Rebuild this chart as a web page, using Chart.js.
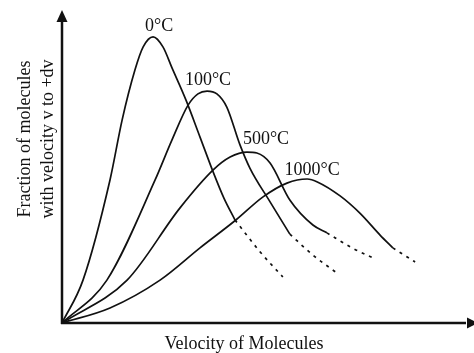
<!DOCTYPE html>
<html>
<head>
<meta charset="utf-8">
<script src="https://cdn.jsdelivr.net/npm/chart.js@4.4.1/dist/chart.umd.min.js"></script>
<style>
  html, body { margin: 0; padding: 0; background: #fff; }
  #wrap { width: 474px; height: 353px; }
</style>
</head>
<body>
<div id="wrap"><canvas id="mbChart"></canvas></div>
<script>
// temperatures, one curve each
const temps = ["0°C", "100°C", "500°C", "1000°C"];

// solid part of each curve (velocity, fraction) in arbitrary units
const velocity0 = [0, 5.1, 11.65, 14.6, 17.7, 19.7, 22.1, 24.5, 26.7, 30.1, 33.5, 36.7, 39.3, 42.0];
const fraction0 = [0, 13.7, 45.7, 64.9, 80.8, 88.2, 91.4, 88.2, 81.5, 71.2, 59.4, 48.2, 39.9, 32.9];
const velocity100 = [0, 10.9, 22.6, 26.7, 30.6, 33.0, 35.2, 37.6, 40.0, 43.2, 45.6, 50.5, 55.3];
const fraction100 = [0, 13.7, 45.7, 58.5, 69.6, 73.2, 74.1, 73.2, 69.0, 56.9, 49.5, 38.7, 28.4];
const velocity500 = [0, 15.8, 28.6, 36.7, 40.8, 44.9, 47.3, 50.5, 55.3, 60.9, 64.3];
const fraction500 = [0, 13.7, 36.7, 48.9, 53.0, 54.6, 54.3, 51.1, 39.3, 31.3, 28.8];
const velocity1000 = [0, 11.65, 23.8, 33.5, 42.2, 48.8, 54.6, 59.5, 62.1, 67.5, 72.3, 77.2, 80.3];
const fraction1000 = [0, 4.8, 13.7, 24.0, 32.9, 40.3, 44.7, 46.0, 45.0, 40.6, 35.1, 28.1, 24.0];

// dotted tails
const tailVelocity0 = [42.0, 48.1, 53.6];
const tailFraction0 = [32.9, 22.7, 14.7];
const tailVelocity100 = [55.3, 60.9, 66.7];
const tailFraction100 = [28.4, 21.7, 16.0];
const tailVelocity500 = [64.3, 70.4, 75.5];
const tailFraction500 = [28.8, 24.0, 20.8];
const tailVelocity1000 = [80.3, 85.7];
const tailFraction1000 = [24.0, 19.5];

const solidV = [velocity0, velocity100, velocity500, velocity1000];
const solidF = [fraction0, fraction100, fraction500, fraction1000];
const tailV = [tailVelocity0, tailVelocity100, tailVelocity500, tailVelocity1000];
const tailF = [tailFraction0, tailFraction100, tailFraction500, tailFraction1000];

// where each temperature label sits relative to its peak (px)
const labelOffsets = [[6, -6], [1, -6], [19, -8], [5, -4]];

const FONT = '"Liberation Serif", "Times New Roman", serif';
const INK = "#111";

function points(xs, ys) {
  return xs.map((x, i) => ({ x: x, y: ys[i] }));
}

const datasets = [];
temps.forEach((t, i) => {
  datasets.push({
    label: t,
    data: points(solidV[i], solidF[i]),
    borderColor: INK,
    borderWidth: 1.7,
    cubicInterpolationMode: "monotone",
    pointRadius: 0,
    clip: false,
  });
});
temps.forEach((t, i) => {
  datasets.push({
    label: t + " tail",
    data: points(tailV[i], tailF[i]),
    borderColor: INK,
    borderWidth: 1.7,
    borderDash: [3, 5],
    cubicInterpolationMode: "monotone",
    pointRadius: 0,
    clip: false,
  });
});

const axesAndText = {
  id: "axesAndText",
  afterDraw(chart) {
    const ctx = chart.ctx;
    const a = chart.chartArea;
    ctx.save();
    ctx.strokeStyle = INK;
    ctx.fillStyle = INK;
    ctx.lineWidth = 2.5;

    // y axis with arrow
    ctx.beginPath();
    ctx.moveTo(a.left, a.bottom + 1);
    ctx.lineTo(a.left, a.top + 10);
    ctx.stroke();
    ctx.beginPath();
    ctx.moveTo(a.left, a.top);
    ctx.lineTo(a.left - 5.5, a.top + 12);
    ctx.lineTo(a.left + 5.5, a.top + 12);
    ctx.closePath();
    ctx.fill();

    // x axis with arrow
    ctx.beginPath();
    ctx.moveTo(a.left - 1, a.bottom);
    ctx.lineTo(a.right - 8, a.bottom);
    ctx.stroke();
    ctx.beginPath();
    ctx.moveTo(a.right + 4, a.bottom);
    ctx.lineTo(a.right - 7, a.bottom - 5.5);
    ctx.lineTo(a.right - 7, a.bottom + 5.5);
    ctx.closePath();
    ctx.fill();

    // temperature labels above each peak
    ctx.font = "18px " + FONT;
    ctx.textAlign = "center";
    ctx.textBaseline = "alphabetic";
    temps.forEach((t, i) => {
      const ys = solidF[i];
      const k = ys.indexOf(Math.max.apply(null, ys));
      const pt = chart.getDatasetMeta(i).data[k];
      ctx.fillText(t, pt.x + labelOffsets[i][0], pt.y + labelOffsets[i][1]);
    });

    // axis titles
    ctx.fillText("Velocity of Molecules", 244, 349);
    ctx.save();
    ctx.translate(25, 139);
    ctx.rotate(-Math.PI / 2);
    ctx.textBaseline = "middle";
    ctx.fillText("Fraction of molecules", 0, 0);
    ctx.fillText("with velocity v to +dv", 0, 23);
    ctx.restore();

    ctx.restore();
  },
};

new Chart(document.getElementById("mbChart"), {
  type: "line",
  data: { datasets: datasets },
  options: {
    responsive: true,
    maintainAspectRatio: false,
    animation: false,
    layout: { padding: { left: 62, top: 10, right: 0, bottom: 30 } },
    plugins: {
      legend: { display: false },
      tooltip: { enabled: false },
    },
    scales: {
      x: { type: "linear", min: 0, max: 100, display: false },
      y: { type: "linear", min: 0, max: 100, display: false },
    },
  },
  plugins: [axesAndText],
});
</script>
</body>
</html>
